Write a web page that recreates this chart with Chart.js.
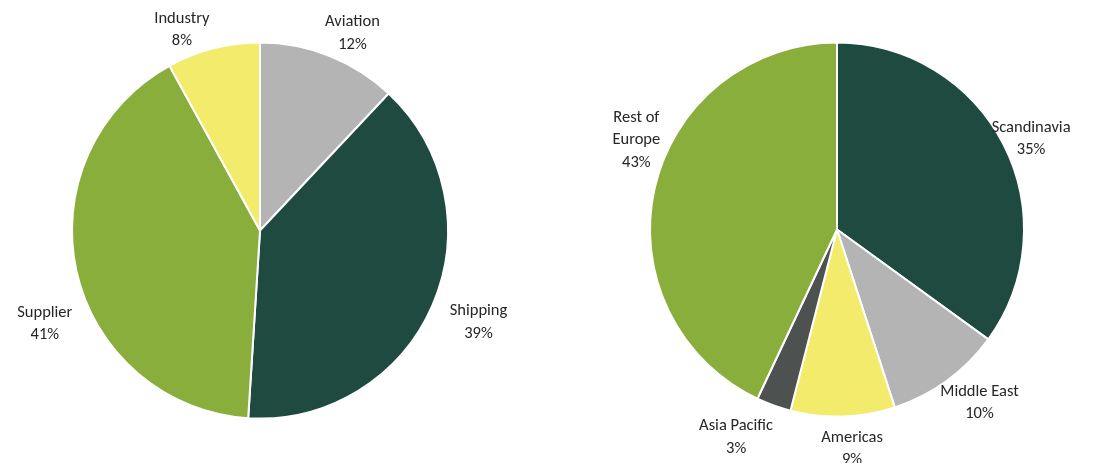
<!DOCTYPE html>
<html>
<head>
<meta charset="utf-8">
<title>Revenue split</title>
<script src="https://cdn.jsdelivr.net/npm/chart.js@4.4.1/dist/chart.umd.min.js"></script>
<style>
  html, body { margin: 0; padding: 0; background: #ffffff; }
  #wrap { position: relative; width: 1093px; height: 463px; overflow: hidden; }
  .box { position: absolute; top: 0; height: 463px; }
  #boxA { left: 0; width: 546px; }
  #boxB { left: 546px; width: 547px; }
</style>
</head>
<body>
<div id="wrap">
  <div class="box" id="boxA"><canvas id="segmentPie"></canvas></div>
  <div class="box" id="boxB"><canvas id="regionPie"></canvas></div>
</div>
<script>
// Revenue by segment (%)
const segmentLabels = ['Aviation', 'Shipping', 'Supplier', 'Industry'];
const segmentValues = [12, 39, 41, 8];

// Revenue by region (%)
const regionLabels = ['Scandinavia', 'Middle East', 'Americas', 'Asia Pacific', ['Rest of', 'Europe']];
const regionValues = [35, 10, 9, 3, 43];

// Palette
const DARK_GREEN = '#1f4a40';
const OLIVE = '#8aae3c';
const YELLOW = '#f3eb6c';
const GREY = '#b4b4b4';
const DARK_GREY = '#4d5150';

const segmentColors = [GREY, DARK_GREEN, OLIVE, YELLOW];
const regionColors = [DARK_GREEN, GREY, YELLOW, DARK_GREY, OLIVE];

// Label placement tweaks (px) applied after the outside-end position is found
const segmentNudge = [[11, 4], [14, 6], [1, 46], [-23, 9]];
const regionNudge = [[-13, 7], [6, -1], [8, 4], [-23, 5], [11, -40]];

const FONT_FAMILY = 'Carlito, Lato, "Liberation Sans", sans-serif';
const FONT_SIZE = 16.5;
const LINE_H = 22.5;
const TEXT_COLOR = '#262626';

// Draws "name / value%" outside each slice
const outsideLabels = {
  id: 'outsideLabels',
  afterDatasetsDraw(chart, args, opts) {
    const ctx = chart.ctx;
    const meta = chart.getDatasetMeta(0);
    const values = chart.data.datasets[0].data;
    ctx.save();
    ctx.font = FONT_SIZE + 'px ' + FONT_FAMILY;
    ctx.fillStyle = TEXT_COLOR;
    ctx.textAlign = 'center';
    ctx.textBaseline = 'middle';
    meta.data.forEach((arc, i) => {
      const p = arc.getProps(['x', 'y', 'startAngle', 'endAngle', 'outerRadius'], true);
      const mid = (p.startAngle + p.endAngle) / 2;
      const cx = Math.cos(mid), cy = Math.sin(mid);
      const name = chart.data.labels[i];
      const lines = (Array.isArray(name) ? name.slice() : [name]);
      lines.push(values[i] + '%');
      const w = Math.max(...lines.map(l => ctx.measureText(l).width));
      const h = lines.length * LINE_H;
      const R = p.outerRadius + opts.gap;
      const nudge = opts.nudge[i] || [0, 0];
      const bx = p.x + R * cx + cx * w / 2 + nudge[0];
      const by = p.y + R * cy + cy * h / 2 + nudge[1];
      lines.forEach((line, k) => {
        ctx.fillText(line, bx, by - h / 2 + LINE_H * (k + 0.5));
      });
    });
    ctx.restore();
  }
};

function makePie(canvasId, labels, values, colors, radius, padding, nudge) {
  return new Chart(document.getElementById(canvasId), {
    type: 'pie',
    data: {
      labels: labels,
      datasets: [{
        data: values,
        backgroundColor: colors,
        borderColor: '#ffffff',
        borderWidth: 2,
        radius: radius
      }]
    },
    options: {
      responsive: true,
      maintainAspectRatio: false,
      animation: false,
      layout: { padding: padding },
      plugins: {
        legend: { display: false },
        tooltip: { enabled: false },
        outsideLabels: { gap: 6, nudge: nudge }
      }
    },
    plugins: [outsideLabels]
  });
}

makePie('segmentPie', segmentLabels, segmentValues, segmentColors, 188,
  { left: 72, right: 98, top: 44, bottom: 46 }, segmentNudge);
makePie('regionPie', regionLabels, regionValues, regionColors, 187,
  { left: 104, right: 69, top: 43, bottom: 47 }, regionNudge);
</script>
</body>
</html>
